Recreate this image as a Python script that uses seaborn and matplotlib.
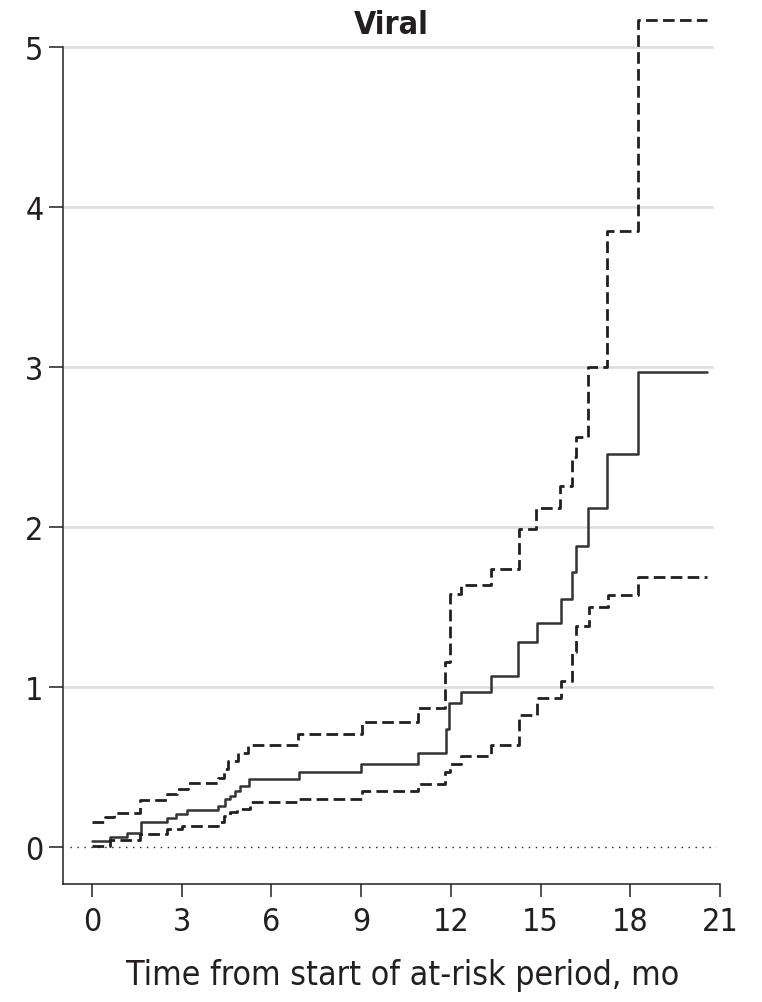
import numpy as np
import pandas as pd
import matplotlib
matplotlib.use("Agg")
import matplotlib.pyplot as plt
import seaborn as sns

# Cumulative incidence (%) of viral events with 95% confidence bounds
months_est = [0, 0.6, 1.16, 1.64, 2.5, 2.8, 3.18, 4.2, 4.45, 4.62, 4.78, 4.95, 5.24,
              6.93, 9.0, 10.9, 11.84, 11.95, 12.33, 13.34, 14.26, 14.87, 15.69,
              16.06, 16.18, 16.6, 17.23, 18.25, 20.55]
incidence_est = [0.04, 0.062, 0.087, 0.16, 0.184, 0.208, 0.232, 0.256, 0.30, 0.32,
                 0.35, 0.38, 0.423, 0.47, 0.52, 0.59, 0.74, 0.90, 0.97, 1.07, 1.28,
                 1.40, 1.55, 1.72, 1.88, 2.12, 2.46, 2.97, 2.97]

months_upper = [0, 0.45, 0.74, 1.6, 2.52, 2.83, 3.21, 4.2, 4.4, 4.56, 4.89, 5.23, 6.9,
                9.02, 10.9, 11.8, 11.97, 12.33, 13.33, 14.28, 14.85, 15.65, 16.04,
                16.2, 16.6, 17.21, 18.27, 20.55]
incidence_upper = [0.156, 0.186, 0.212, 0.295, 0.33, 0.366, 0.402, 0.43, 0.49, 0.54,
                   0.59, 0.64, 0.71, 0.78, 0.87, 1.16, 1.58, 1.64, 1.74, 1.99, 2.12,
                   2.26, 2.44, 2.56, 3.0, 3.85, 5.17, 5.17]

months_lower = [0, 0.6, 1.62, 2.5, 3.0, 4.22, 4.4, 4.62, 4.84, 5.27, 6.9, 9.02, 10.9,
                11.8, 11.97, 12.33, 13.33, 14.28, 14.87, 15.69, 16.04, 16.19, 16.63,
                17.24, 18.25, 20.55]
incidence_lower = [0.01, 0.045, 0.08, 0.112, 0.135, 0.16, 0.195, 0.22, 0.237, 0.28,
                   0.30, 0.35, 0.395, 0.47, 0.52, 0.57, 0.64, 0.825, 0.93, 1.04, 1.22,
                   1.38, 1.50, 1.575, 1.69, 1.69]

x_ticks = [0, 3, 6, 9, 12, 15, 18, 21]
y_ticks = [0, 1, 2, 3, 4, 5]
title = "Viral"
x_label = "Time from start of at-risk period, mo"

sns.set_theme(style="white")
plt.rcParams["font.family"] = ["DejaVu Sans"]
plt.rcParams["font.stretch"] = "condensed"
ink = "#231f20"

fig = plt.figure(figsize=(7.62, 10.03), dpi=100)
ax = fig.add_axes([63 / 762, 1 - 885 / 1003, (720 - 63) / 762, (885 - 8) / 1003])
ax.set_xlim(-0.97, 21)
ax.set_ylim(-0.23, 5.25)

# Reference gridlines and the zero baseline
for y in y_ticks[1:]:
    ax.hlines(y, -0.97, 20.77, color="#dcdcdc", lw=1.8, zorder=0)
ax.hlines(0, -0.75, 20.85, color=ink, lw=1.0, linestyles=(0, (1, 4)), zorder=1)

est = pd.DataFrame({"month": months_est, "incidence": incidence_est})
upper = pd.DataFrame({"month": months_upper, "incidence": incidence_upper})
lower = pd.DataFrame({"month": months_lower, "incidence": incidence_lower})

sns.lineplot(data=est, x="month", y="incidence", ax=ax, color="#333333", lw=1.8,
             drawstyle="steps-post", estimator=None, sort=False)
for band in (upper, lower):
    sns.lineplot(data=band, x="month", y="incidence", ax=ax, color=ink, lw=2.0,
                 drawstyle="steps-post", estimator=None, sort=False,
                 dashes=False, linestyle=(0, (4.2, 1.9)))

ax.set_xticks(x_ticks)
ax.set_yticks(y_ticks)
ax.tick_params(axis="both", which="both", direction="out", width=1.1,
               color=ink, labelcolor=ink, labelsize=23, bottom=True, left=True)
ax.tick_params(axis="x", length=9, pad=7)
ax.tick_params(axis="y", length=10, pad=4)
ax.set_xlabel(x_label, fontsize=24.3, color=ink, labelpad=15)
ax.xaxis.label.set_x(0.517)
ax.set_ylabel("")

for side in ("top", "right"):
    ax.spines[side].set_visible(False)
for side in ("left", "bottom"):
    ax.spines[side].set_color(ink)
    ax.spines[side].set_linewidth(1.1)
ax.spines["left"].set_bounds(-0.23, 5)

fig.text((63 + 720) / 2 / 762, 1 - 25 / 1003, title, ha="center", va="center",
         fontsize=23, fontweight="semibold", color=ink)

fig.savefig("out.png", dpi=100)
